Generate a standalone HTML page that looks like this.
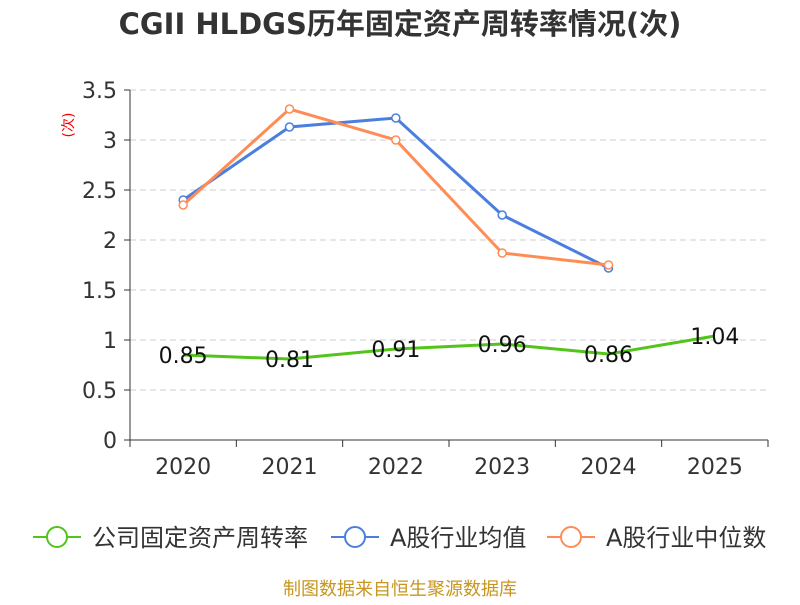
<!DOCTYPE html>
<html><head><meta charset="utf-8"><style>
body{margin:0;background:#fff;}
svg text{font-family:"DejaVu Sans","Noto Sans CJK SC",sans-serif;}
</style></head><body>
<svg id="chart" width="800" height="600" xmlns="http://www.w3.org/2000/svg">
<text x="400" y="34" text-anchor="middle" font-size="29" font-weight="bold" fill="#333">CGII HLDGS历年固定资产周转率情况(次)</text>
<text transform="translate(73,125) rotate(-90)" text-anchor="middle" font-size="14" fill="#e00">(次)</text>
<g id="grid"></g><g id="axes"></g><g id="series"></g>
<g>
<g><line x1="33" y1="537" x2="81" y2="537" stroke="#52c41a" stroke-width="2"/><circle cx="57" cy="537" r="10" fill="#fff" stroke="#52c41a" stroke-width="2"/><text x="92" y="546" font-size="24" fill="#333">公司固定资产周转率</text></g>
<g><line x1="331" y1="537" x2="379" y2="537" stroke="#4a7fe0" stroke-width="2"/><circle cx="355" cy="537" r="10" fill="#fff" stroke="#4a7fe0" stroke-width="2"/><text x="390" y="546" font-size="24" fill="#333">A股行业均值</text></g>
<g><line x1="547" y1="537" x2="595" y2="537" stroke="#ff8c55" stroke-width="2"/><circle cx="571" cy="537" r="10" fill="#fff" stroke="#ff8c55" stroke-width="2"/><text x="606" y="546" font-size="24" fill="#333">A股行业中位数</text></g>
</g>
<text x="400" y="595" text-anchor="middle" font-size="18" fill="#c8961e">制图数据来自恒生聚源数据库</text>
</svg>
<script>
const categories=["2020","2021","2022","2023","2024","2025"];
const companyValues=[0.85,0.81,0.91,0.96,0.86,1.04];
const avgValues=[2.40,3.13,3.22,2.25,1.72];
const medianValues=[2.35,3.31,3.00,1.87,1.75];
const yTicks=[0,0.5,1,1.5,2,2.5,3,3.5];
const yTickLabels=["0","0.5","1","1.5","2","2.5","3","3.5"];
const NS="http://www.w3.org/2000/svg";
const x0=130,x1=768,y0=440,yTop=90,yMax=3.5;
const bw=(x1-x0)/categories.length;
const xs=i=>x0+bw*(i+0.5);
const ys=v=>y0-(v/yMax)*(y0-yTop);
function mk(tag,attrs,parent){const e=document.createElementNS(NS,tag);for(const k in attrs)e.setAttribute(k,attrs[k]);parent.appendChild(e);return e;}
const grid=document.getElementById('grid'),axes=document.getElementById('axes'),ser=document.getElementById('series');
yTicks.forEach((t,i)=>{
  if(t>0){const l=mk('line',{x1:x0,x2:x1,y1:ys(t),y2:ys(t),stroke:'#ccc','stroke-dasharray':'6,4'},grid);
  
  }
  mk('line',{x1:x0-6,x2:x0,y1:ys(t),y2:ys(t),stroke:'#333'},axes);
  const tx=mk('text',{x:x0-13,y:ys(t)+8,'text-anchor':'end','font-size':22,fill:'#333'},axes);tx.textContent=yTickLabels[i];
  
  
});
mk('line',{x1:x0,x2:x0,y1:yTop,y2:y0,stroke:'#333'},axes);
mk('line',{x1:x0,x2:x1,y1:y0,y2:y0,stroke:'#333'},axes);
for(let i=0;i<=categories.length;i++)mk('line',{x1:x0+bw*i,x2:x0+bw*i,y1:y0,y2:y0+7,stroke:'#333'},axes);
categories.forEach((c,i)=>{const t=mk('text',{x:xs(i),y:y0+34,'text-anchor':'middle','font-size':22,fill:'#333'},axes);t.textContent=c;
  
  });
function line(vals,color,name,labels,dots){
  const g=mk('g',{},ser);
  
  
  mk('polyline',{points:vals.map((v,i)=>xs(i)+','+ys(v)).join(' '),fill:'none',stroke:color,'stroke-width':3},g);
  vals.forEach((v,i)=>{
    if(dots){const c=mk('circle',{cx:xs(i),cy:ys(v),r:4,fill:'#fff',stroke:color,'stroke-width':1.5},g);
    
    }
    if(labels){const t=mk('text',{x:xs(i),y:ys(v)+8,'text-anchor':'middle','font-size':22,fill:'#111'},g);t.textContent=v.toFixed(2);
    
    }
  });
}
line(companyValues,'#52c41a','company-line',true,false);
line(avgValues,'#4a7fe0','industry-average-line',false,true);
line(medianValues,'#ff8c55','industry-median-line',false,true);
</script>
</body></html>
